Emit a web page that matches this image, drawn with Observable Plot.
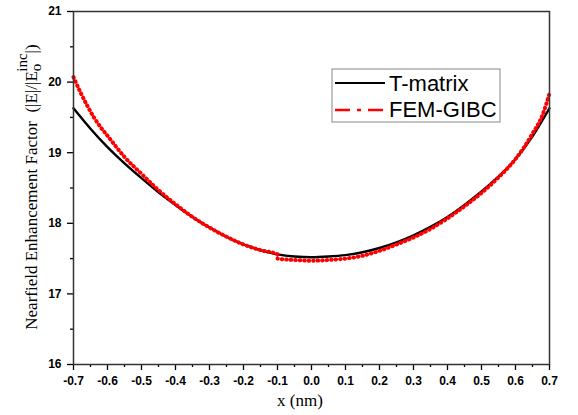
<!DOCTYPE html>
<html>
<head>
<meta charset="utf-8">
<script src="https://cdn.jsdelivr.net/npm/d3@7"></script>
<script src="https://cdn.jsdelivr.net/npm/@observablehq/plot@0.6"></script>
<style>
  body { margin: 0; background: #fff; }
  #chart { position: relative; width: 578px; height: 415px; }
</style>
</head>
<body>
<div id="chart"></div>
<script>
const xValues = [-0.70,-0.65,-0.60,-0.55,-0.50,-0.45,-0.40,-0.35,-0.30,-0.25,-0.20,-0.15,-0.10,-0.05,0.00,0.05,0.10,0.15,0.20,0.25,0.30,0.35,0.40,0.45,0.50,0.55,0.60,0.65,0.70];
const tMatrix = [19.63,19.34,19.08,18.85,18.64,18.44,18.26,18.09,17.94,17.81,17.70,17.62,17.56,17.53,17.52,17.53,17.55,17.59,17.65,17.73,17.83,17.95,18.09,18.26,18.45,18.66,18.91,19.23,19.63];
const femX = [-0.70,-0.68,-0.66,-0.64,-0.62,-0.60,-0.55,-0.50,-0.45,-0.40,-0.35,-0.30,-0.25,-0.20,-0.15,-0.10,-0.10,-0.05,0.00,0.05,0.10,0.15,0.20,0.25,0.30,0.35,0.40,0.45,0.50,0.55,0.60,0.65,0.68,0.70];
const femGIBC = [20.07,19.86,19.67,19.50,19.36,19.24,18.94,18.70,18.47,18.27,18.09,17.94,17.81,17.70,17.62,17.56,17.50,17.48,17.47,17.48,17.50,17.54,17.61,17.70,17.80,17.92,18.07,18.24,18.43,18.65,18.91,19.27,19.54,19.84];
const xTicks = [-0.7,-0.6,-0.5,-0.4,-0.3,-0.2,-0.1,0.0,0.1,0.2,0.3,0.4,0.5,0.6,0.7];
const xMinor = [-0.65,-0.55,-0.45,-0.35,-0.25,-0.15,-0.05,0.05,0.15,0.25,0.35,0.45,0.55,0.65];
const yTicks = [16,17,18,19,20,21];
const yMinor = [16.5,17.5,18.5,19.5,20.5];
const seriesNames = ["T-matrix","FEM-GIBC"];

const tData = xValues.map((x, i) => ({x, y: tMatrix[i]}));
const fData = femX.map((x, i) => ({x, y: femGIBC[i]}));

const tickText = {fontSize: 12, fontWeight: "bold", fontFamily: "'Liberation Sans', Arial, sans-serif"};

const plot = Plot.plot({
  width: 578,
  height: 415,
  marginLeft: 73,
  marginRight: 29,
  marginTop: 11,
  marginBottom: 51,
  style: {background: "#fff", color: "#000"},
  x: {domain: [-0.7, 0.7], label: null},
  y: {domain: [16, 21], label: null},
  marks: [
    Plot.axisX({ticks: xMinor, tickSize: 3, tickFormat: () => "", strokeWidth: 1.3, label: null}),
    Plot.axisX({ticks: xTicks, tickSize: 6, tickPadding: 6, strokeWidth: 1.3, tickFormat: d => d.toFixed(1), label: null, ...tickText}),
    Plot.axisY({ticks: yMinor, tickSize: 3, tickFormat: () => "", strokeWidth: 1.3, label: null}),
    Plot.axisY({ticks: yTicks, tickSize: 6, tickPadding: 6, strokeWidth: 1.3, tickFormat: d => String(d), label: null, ...tickText}),
    Plot.line(tData, {x: "x", y: "y", stroke: "#000", strokeWidth: 2.4, curve: "natural"}),
    Plot.line(fData, {x: "x", y: "y", stroke: "#ff0000", strokeWidth: 4, strokeDasharray: "0.5,4", strokeLinecap: "round", curve: "monotone-x"}),
    Plot.frame({stroke: "#333", strokeWidth: 1.5})
  ]
});
document.getElementById("chart").appendChild(plot);

const svg = d3.select(plot);
// axis titles
svg.append("text")
  .attr("x", 300).attr("y", 406)
  .attr("text-anchor", "middle")
  .style("font", "17px 'Liberation Serif', 'Times New Roman', serif")
  .text("x (nm)");

const yl = svg.append("text")
  .attr("transform", "translate(37,187) rotate(-90)")
  .attr("text-anchor", "middle")
  .style("font", "17px 'Liberation Serif', 'Times New Roman', serif");
yl.append("tspan").text("Nearfield Enhancement Factor  (|E|/|E");
yl.append("tspan").attr("dy", 4).style("font-size", "15px").text("o");
yl.append("tspan").attr("dx", -8).attr("dy", -14).style("font-size", "15px").text("inc");
yl.append("tspan").attr("dy", 10).text("|)");

// legend
const lg = svg.append("g").attr("text-anchor", "start");
lg.append("rect").attr("x", 332).attr("y", 69).attr("width", 168).attr("height", 53)
  .attr("fill", "#fff").attr("stroke", "#888").attr("stroke-width", 1);
lg.append("line").attr("x1", 335).attr("x2", 385).attr("y1", 83).attr("y2", 83)
  .attr("stroke", "#000").attr("stroke-width", 2);
lg.append("line").attr("x1", 335).attr("x2", 385).attr("y1", 110).attr("y2", 110)
  .attr("stroke", "#ff0000").attr("stroke-width", 2.5).attr("stroke-dasharray", "15,7,4,7,15");
lg.selectAll("text.leg").data(seriesNames).join("text")
  .attr("x", 389).attr("y", (d, i) => 91 + i * 26)
  .attr("text-anchor", "start")
  .style("font", "22px 'Liberation Sans', Arial, sans-serif")
  .text(d => d);
</script>
</body>
</html>
